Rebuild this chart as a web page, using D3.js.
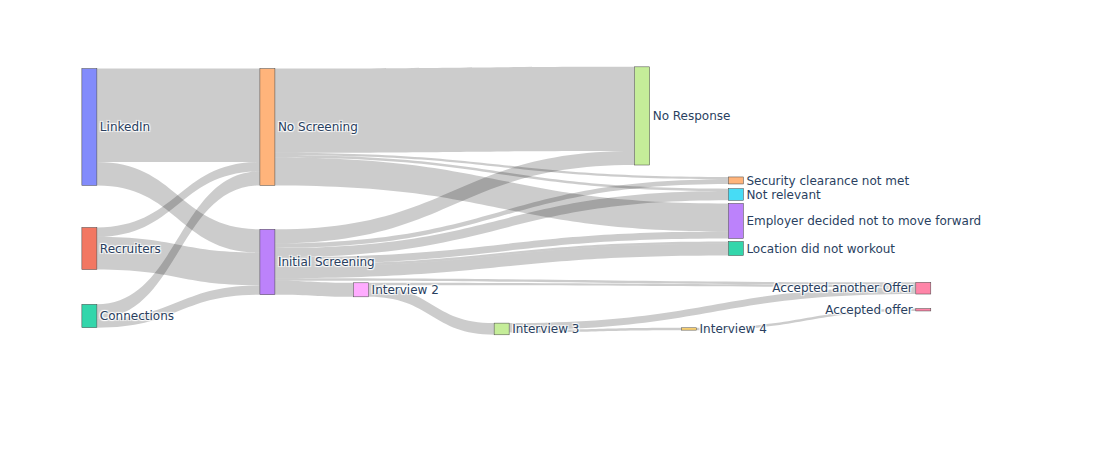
<!DOCTYPE html>
<html>
<head>
<meta charset="utf-8">
<script src="https://cdn.jsdelivr.net/npm/d3@7"></script>
<style>
    body { margin: 0; background: #fff; }
    .node-label {
        font-family: "DejaVu Sans", verdana, arial, sans-serif;
        font-size: 12px;
        fill: #2a3f5f;
        text-shadow: 1px 1px 1px #fff, -1px -1px 1px #fff, 1px -1px 1px #fff, -1px 1px 1px #fff;
    }
</style>
</head>
<body>
<svg id="sankey_svg" width="1097" height="450"></svg>
<script>
// nodes of the job search flow
const nodeNames = [
    "LinkedIn",
    "Recruiters",
    "Connections",
    "No Screening",
    "Initial Screening",
    "No Response",
    "Security clearance not met",
    "Not relevant",
    "Employer decided not to move forward",
    "Location did not workout",
    "Interview 2",
    "Interview 3",
    "Interview 4",
    "Accepted another Offer",
    "Accepted offer"
];

// links (source, target, number of applications)
const linkSource = [
    "LinkedIn", "LinkedIn", "Recruiters", "Recruiters", "Connections", "Connections",
    "No Screening", "No Screening", "No Screening", "No Screening",
    "Initial Screening", "Initial Screening", "Initial Screening", "Initial Screening",
    "Initial Screening", "Initial Screening", "Initial Screening", "Initial Screening",
    "Interview 2", "Interview 2", "Interview 3", "Interview 3", "Interview 4"
];
const linkTarget = [
    "No Screening", "Initial Screening", "No Screening", "Initial Screening", "No Screening", "Initial Screening",
    "No Response", "Security clearance not met", "Not relevant", "Employer decided not to move forward",
    "No Response", "Security clearance not met", "Not relevant", "Employer decided not to move forward",
    "Location did not workout", "Location did not workout", "Interview 2", "Accepted another Offer",
    "Interview 3", "Accepted another Offer", "Accepted another Offer", "Interview 4", "Accepted offer"
];
const linkValue = [
    40, 10, 4, 14, 6, 4,
    36, 1, 1, 12,
    6, 2, 4, 3,
    1, 5, 6, 1,
    5, 1, 3, 1, 1
];

// node placement (normalised centre positions, like plotly node.x / node.y)
const nodeX = [0.01, 0.01, 0.01, 0.2, 0.2, 0.6, 0.7, 0.7, 0.7, 0.7, 0.3, 0.45, 0.65, 0.9, 0.9];
const nodeY = [0.1, 0.55, 0.8, 0.1, 0.6, 0.059, 0.298, 0.35, 0.448, 0.55, 0.703, 0.848, 0.848, 0.697, 0.777];

const colorway = ["#636efa", "#EF553B", "#00cc96", "#ab63fa", "#FFA15A", "#19d3f3", "#FF6692", "#B6E880", "#FF97FF", "#FECB52"];
const nodeColors = [
    colorway[0], colorway[1], colorway[2], colorway[4], colorway[3],
    colorway[7], colorway[4], colorway[5], colorway[3], colorway[2],
    colorway[8], colorway[7], colorway[9], colorway[6], colorway[6]
];

const svg = d3.select("#sankey_svg");
const width = 1097, height = 450;
const margin = { top: 100, right: 80, bottom: 80, left: 80 };
const innerWidth = width - margin.left - margin.right;
const innerHeight = height - margin.top - margin.bottom;
const nodePad = 15, nodeThickness = 15;

// build graph
const nodes = nodeNames.map((name, i) => ({ name: name, index: i, sourceLinks: [], targetLinks: [] }));
const byName = new Map(nodes.map(n => [n.name, n]));
const links = linkValue.map((v, i) => {
    const l = { source: byName.get(linkSource[i]), target: byName.get(linkTarget[i]), value: v, index: i };
    l.source.sourceLinks.push(l);
    l.target.targetLinks.push(l);
    return l;
});
nodes.forEach(n => {
    n.value = Math.max(d3.sum(n.sourceLinks, l => l.value), d3.sum(n.targetLinks, l => l.value));
});

// depth + justify, to find the value scale the same way d3-sankey does
let current = new Set(nodes), next = new Set(), depth = 0;
while (current.size) {
    for (const n of current) {
        n.depth = depth;
        for (const l of n.sourceLinks) next.add(l.target);
    }
    depth++;
    current = next;
    next = new Set();
}
nodes.forEach(n => { n.layer = n.sourceLinks.length ? n.depth : depth - 1; });
const columns = d3.groups(nodes, n => n.layer).map(d => d[1]);
const ky = d3.min(columns, c => (innerHeight - (c.length - 1) * nodePad) / d3.sum(c, n => n.value));

const xScale = d3.scaleLinear().domain([0, 1]).range([margin.left, margin.left + innerWidth]);
const yScale = d3.scaleLinear().domain([0, 1]).range([margin.top, margin.top + innerHeight]);
const valueScale = d3.scaleLinear().domain([0, 1]).range([0, ky]);

nodes.forEach((n, i) => {
    const cx = xScale(nodeX[i]), cy = yScale(nodeY[i]), h = valueScale(n.value);
    n.x0 = cx - nodeThickness / 2;
    n.x1 = cx + nodeThickness / 2;
    n.y0 = cy - h / 2;
    n.y1 = cy + h / 2;
});

// stack links at each node, ordered by the other end
links.forEach(l => { l.width = valueScale(l.value); });
nodes.forEach(n => {
    n.sourceLinks.sort((a, b) => (a.target.y0 - b.target.y0) || (a.index - b.index));
    n.targetLinks.sort((a, b) => (a.source.y0 - b.source.y0) || (a.index - b.index));
    let y = n.y0;
    n.sourceLinks.forEach(l => { l.y0 = y; y += l.width; });
    y = n.y0;
    n.targetLinks.forEach(l => { l.y1 = y; y += l.width; });
});

function linkPath(l) {
    const x0 = l.source.x1, x1 = l.target.x0;
    const xi = d3.interpolateNumber(x0, x1);
    const xa = xi(0.5), xb = xi(0.5);
    const a0 = l.y0, a1 = l.y0 + l.width, b0 = l.y1, b1 = l.y1 + l.width;
    return "M" + x0 + "," + a0 +
        "C" + xa + "," + a0 + " " + xb + "," + b0 + " " + x1 + "," + b0 +
        "L" + x1 + "," + b1 +
        "C" + xb + "," + b1 + " " + xa + "," + a1 + " " + x0 + "," + a1 + "Z";
}

svg.append("g")
    .attr("class", "links")
    .selectAll("path")
    .data(links)
    .enter()
    .append("path")
    .attr("d", linkPath)
    .attr("fill", "rgba(0,0,0,0.2)")
    .attr("stroke", "none");

const nodeGroup = svg.append("g")
    .attr("class", "nodes")
    .selectAll(".node")
    .data(nodes)
    .enter()
    .append("g")
    .attr("class", "node");

nodeGroup.append("rect")
    .attr("x", d => d.x0)
    .attr("y", d => d.y0)
    .attr("width", d => d.x1 - d.x0)
    .attr("height", d => Math.max(d.y1 - d.y0, 0.5))
    .attr("fill", d => nodeColors[d.index])
    .attr("fill-opacity", 0.8)
    .attr("stroke", "#444")
    .attr("stroke-width", 0.5);

// labels go right of the node, left for the last column
const lastX = d3.max(nodeX);
nodeGroup.append("text")
    .attr("class", "node-label")
    .attr("x", d => nodeX[d.index] === lastX ? d.x0 - 3 : d.x1 + 3)
    .attr("y", d => (d.y0 + d.y1) / 2)
    .attr("dy", "0.35em")
    .attr("text-anchor", d => nodeX[d.index] === lastX ? "end" : "start")
    .text(d => d.name);
</script>
</body>
</html>
